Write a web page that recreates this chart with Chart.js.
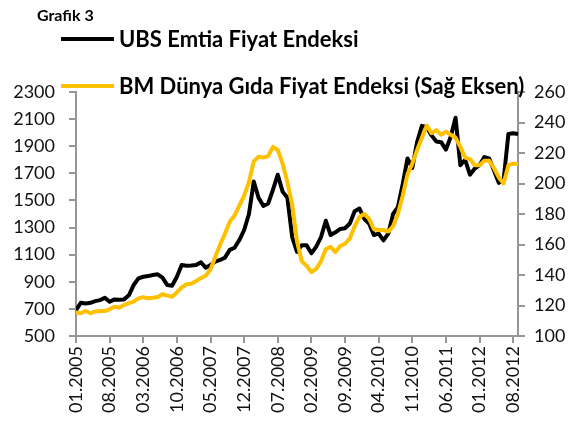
<!DOCTYPE html>
<html>
<head>
<meta charset="utf-8">
<script src="https://cdn.jsdelivr.net/npm/chart.js@4.4.1/dist/chart.umd.min.js"></script>
<style>
html, body { margin: 0; padding: 0; background: #fff; }
#wrap { position: relative; width: 578px; height: 423px; font-family: Lato, "Open Sans", sans-serif; color: #000; }
#title { position: absolute; left: 37px; top: 5px; font-weight: bold; font-size: 16px; line-height: 20px; }
.leg { position: absolute; left: 61px; font-weight: bold; font-size: 22px; line-height: 26px; display: flex; align-items: center; white-space: nowrap; }
.leg .s { display: inline-block; width: 53px; height: 4px; margin-right: 5px; }
canvas { position: absolute; left: 0; top: 0; }
</style>
</head>
<body>
<div id="wrap">
  <canvas id="c" width="578" height="423"></canvas>
  <div id="title">Grafik 3</div>
  <div id="legend"></div>
</div>
<script>
// seri adlari
const seriesNames = ['UBS Emtia Fiyat Endeksi', 'BM Dünya Gıda Fiyat Endeksi (Sağ Eksen)'];
const seriesColors = ['#000000', '#FFC000'];

// aylar: 01.2005 - 09.2012
const months = [];
for (let y = 2005; y <= 2012; y++) {
    for (let m = 1; m <= 12; m++) {
        if (y === 2012 && m > 9) break;
        months.push((m < 10 ? '0' + m : '' + m) + '.' + y);
    }
}
// eksende yazan etiketler
const tickLabels = ['01.2005', '08.2005', '03.2006', '10.2006', '05.2007', '12.2007', '07.2008',
    '02.2009', '09.2009', '04.2010', '11.2010', '06.2011', '01.2012', '08.2012'];

// UBS emtia endeksi (sol eksen)
const ubs = [
    690, 745, 740, 745, 757, 765, 782, 752, 770, 768, 770, 800,
    876, 925, 937, 942, 950, 955, 930, 876, 871, 937, 1024, 1019,
    1020, 1024, 1044, 1004, 1024, 1048, 1061, 1078, 1135, 1151, 1208, 1282,
    1400, 1640, 1520, 1460, 1477, 1580, 1690, 1565, 1520, 1230, 1120, 1170,
    1170, 1110, 1160, 1230, 1350, 1245, 1265, 1290, 1295, 1330, 1420, 1440,
    1365, 1330, 1245, 1255, 1205, 1255, 1400, 1450, 1620, 1810, 1740, 1930,
    2050, 2040, 1980, 1935, 1930, 1875, 1970, 2110, 1760, 1800, 1690, 1735,
    1760, 1820, 1810, 1720, 1630, 1650, 1990, 1995, 1990
];
// FAO gida fiyat endeksi (sag eksen)
const fao = [
    115.5, 114.9, 116.4, 115, 116, 116.4, 116.4, 117.5, 119.2, 118.6, 120.3, 121.5,
    122.5, 124.7, 125.5, 124.7, 125.1, 125.6, 127.4, 126.5, 125.8, 128.6, 131.9, 133.9,
    134.3, 136.1, 138, 139.5, 143.7, 152, 160, 167, 175, 179, 185.5, 192,
    201, 214.5, 217.5, 217, 218, 224, 222, 213, 201, 186, 162, 149,
    146, 142, 144, 149, 157, 158.5, 155, 159, 160.5, 164, 172, 178,
    180, 177, 170, 169.5, 169.5, 168.5, 172, 180, 192, 206, 213, 222,
    230, 238, 233, 235, 232, 234, 232, 230, 224, 217, 216, 212,
    212, 215, 215, 210, 204, 200, 212, 213, 213
];

const leftTicks = { min: 500, max: 2300, step: 200 };
const rightTicks = { min: 100, max: 260, step: 20 };

// legend (html)
const legendEl = document.getElementById('legend');
seriesNames.forEach((name, i) => {
    const row = document.createElement('div');
    row.className = 'leg';
    row.style.top = (i === 0 ? 26 : 73) + 'px';
    row.innerHTML = '<span class="s" style="background:' + seriesColors[i] + '"></span>' + name;
    legendEl.appendChild(row);
});

const axisGrey = '#969696';
const tickFont = { family: 'Lato', size: 18 };

new Chart(document.getElementById('c'), {
    type: 'line',
    data: {
        datasets: [{
            label: seriesNames[0],
            data: ubs.map((v, i) => ({ x: i, y: v })),
            borderColor: seriesColors[0],
            borderWidth: 4,
            pointRadius: 0,
            tension: 0,
            borderJoinStyle: 'round',
            yAxisID: 'y',
            order: 2
        }, {
            label: seriesNames[1],
            data: fao.map((v, i) => ({ x: i, y: v })),
            borderColor: seriesColors[1],
            borderWidth: 4,
            pointRadius: 0,
            tension: 0,
            borderJoinStyle: 'round',
            yAxisID: 'y2',
            order: 1
        }]
    },
    options: {
        responsive: false,
        animation: false,
        devicePixelRatio: 1,
        layout: { padding: { top: 92, left: 0, right: 0, bottom: 0 } },
        plugins: { legend: { display: false }, tooltip: { enabled: false } },
        scales: {
            x: {
                type: 'linear',
                min: 0,
                max: months.length - 1,
                afterBuildTicks: (s) => {
                    s.ticks = tickLabels.map(l => ({ value: months.indexOf(l) }));
                },
                afterFit: (s) => { s.height = 87; },
                grid: { drawOnChartArea: false, color: axisGrey, lineWidth: 2, tickLength: 7 },
                border: { color: axisGrey, width: 2 },
                ticks: {
                    autoSkip: false,
                    minRotation: 90,
                    maxRotation: 90,
                    padding: 3,
                    color: '#111',
                    font: tickFont,
                    callback: (v) => months[v]
                }
            },
            y: {
                position: 'left',
                min: leftTicks.min,
                max: leftTicks.max,
                afterFit: (s) => { s.width = 76; },
                grid: { drawOnChartArea: false, color: axisGrey, lineWidth: 2, tickLength: 7 },
                border: { color: axisGrey, width: 2 },
                ticks: { stepSize: leftTicks.step, padding: 14, color: '#111', font: tickFont, callback: (v) => String(v) }
            },
            y2: {
                position: 'right',
                min: rightTicks.min,
                max: rightTicks.max,
                afterFit: (s) => { s.width = 60; },
                grid: { drawOnChartArea: false, color: axisGrey, lineWidth: 2, tickLength: 7 },
                border: { color: axisGrey, width: 2 },
                ticks: { stepSize: rightTicks.step, padding: 9, color: '#111', font: tickFont, callback: (v) => String(v) }
            }
        }
    }
});
</script>
</body>
</html>
